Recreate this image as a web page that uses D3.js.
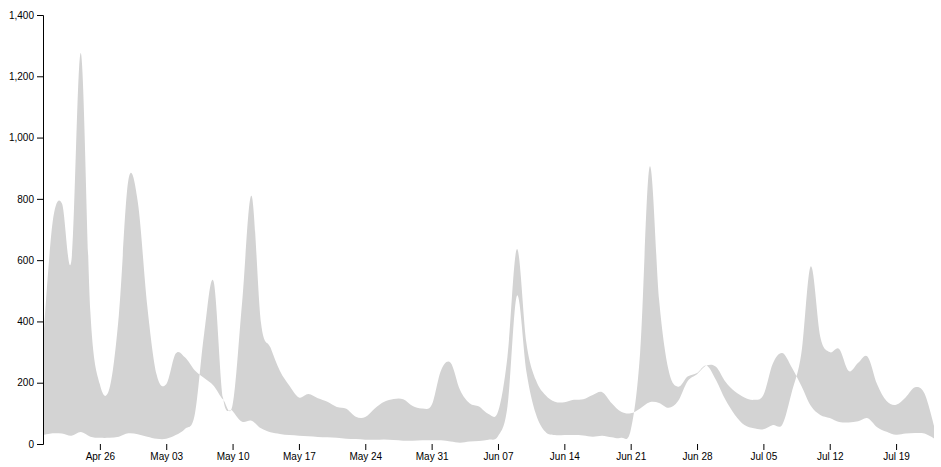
<!DOCTYPE html>
<html lang="en">
<head>
    <meta charset="UTF-8">
    <title>Difference band</title>
    <script src="https://d3js.org/d3.v7.min.js"></script>
    <style>
        body {margin: 0; background: white;}
    </style>
</head>
<body>
<script>
    // daily values, first day Apr 20
    const startDay = "2015-04-20";
    const seriesA = [
        320, 720, 785, 600, 1275, 430, 195, 180, 420, 860,
        790, 450, 225, 195, 295, 282, 241, 215, 190, 145,
        128, 460, 810, 395, 315, 238, 190, 152, 163, 149,
        138, 121, 115, 89, 88, 116, 138, 147, 146, 124,
        116, 127, 241, 265, 176, 133, 122, 98, 105, 285,
        636, 330, 209, 160, 138, 136, 144, 146, 160, 169,
        133, 105, 100, 116, 136, 134, 118, 140, 205, 228,
        256, 252, 203, 171, 152, 144, 160, 263, 297, 250,
        190, 125, 95, 85, 72, 70, 74, 84, 55, 40,
        30, 34, 36, 34, 18
    ];
    const seriesB = [
        29, 35, 34, 27, 39, 24, 20, 20, 24, 35,
        32, 24, 17, 17, 29, 50, 95, 360, 530, 150,
        108, 73, 76, 51, 38, 33, 29, 27, 25, 23,
        22, 20, 17, 16, 14, 14, 15, 13, 11, 11,
        12, 12, 12, 8, 4, 8, 10, 14, 25, 122,
        484, 236, 98, 40, 29, 29, 29, 28, 24, 27,
        22, 20, 45, 300, 905, 470, 241, 187, 220, 232,
        256, 209, 144, 95, 62, 51, 48, 62, 64, 170,
        295, 580, 350, 300, 310, 238, 265, 285, 195, 140,
        128, 152, 185, 165, 60
    ];
    const yTicks = [0, 200, 400, 600, 800, 1000, 1200, 1400];

    const width = 941;
    const height = 467;
    const margin = {top: 15, right: 7, bottom: 23, left: 43};
    const w = width - margin.left - margin.right;
    const h = height - margin.top - margin.bottom;

    const start = d3.timeParse("%Y-%m-%d")(startDay);
    const data = seriesA.map((a, i) => ({
        date: d3.timeDay.offset(start, i),
        a: a,
        b: seriesB[i]
    }));

    const x = d3.scaleTime()
            .domain(d3.extent(data, d => d.date))
            .range([0, w]);
    const y = d3.scaleLinear()
            .domain([0, 1400])
            .range([h, 0]);

    const svg = d3.select("body").append("svg")
            .attr("width", width).attr("height", height);
    const g = svg.append("g")
            .attr("transform", `translate(${margin.left},${margin.top})`);

    const area = d3.area()
            .curve(d3.curveCardinal)
            .x(d => x(d.date))
            .y0(d => y(d.b))
            .y1(d => y(d.a));

    g.append("path").attr("class", "band")
            .datum(data)
            .attr("d", area);

    g.append("g").attr("class", "axis")
            .attr("transform", `translate(0,${h})`)
            .call(d3.axisBottom(x)
                    .ticks(d3.timeWeek)
                    .tickFormat(d3.timeFormat("%b %d")))
            .call(a => a.select(".domain").remove());

    g.append("g").attr("class", "axis")
            .call(d3.axisLeft(y).tickValues(yTicks));

    g.selectAll(".axis")
            .attr("font-family", "'Liberation Sans', Arial, sans-serif");
</script>
<style>
    .band {
        fill: lightgray;
        stroke: none;
    }
</style>
</body>
</html>
